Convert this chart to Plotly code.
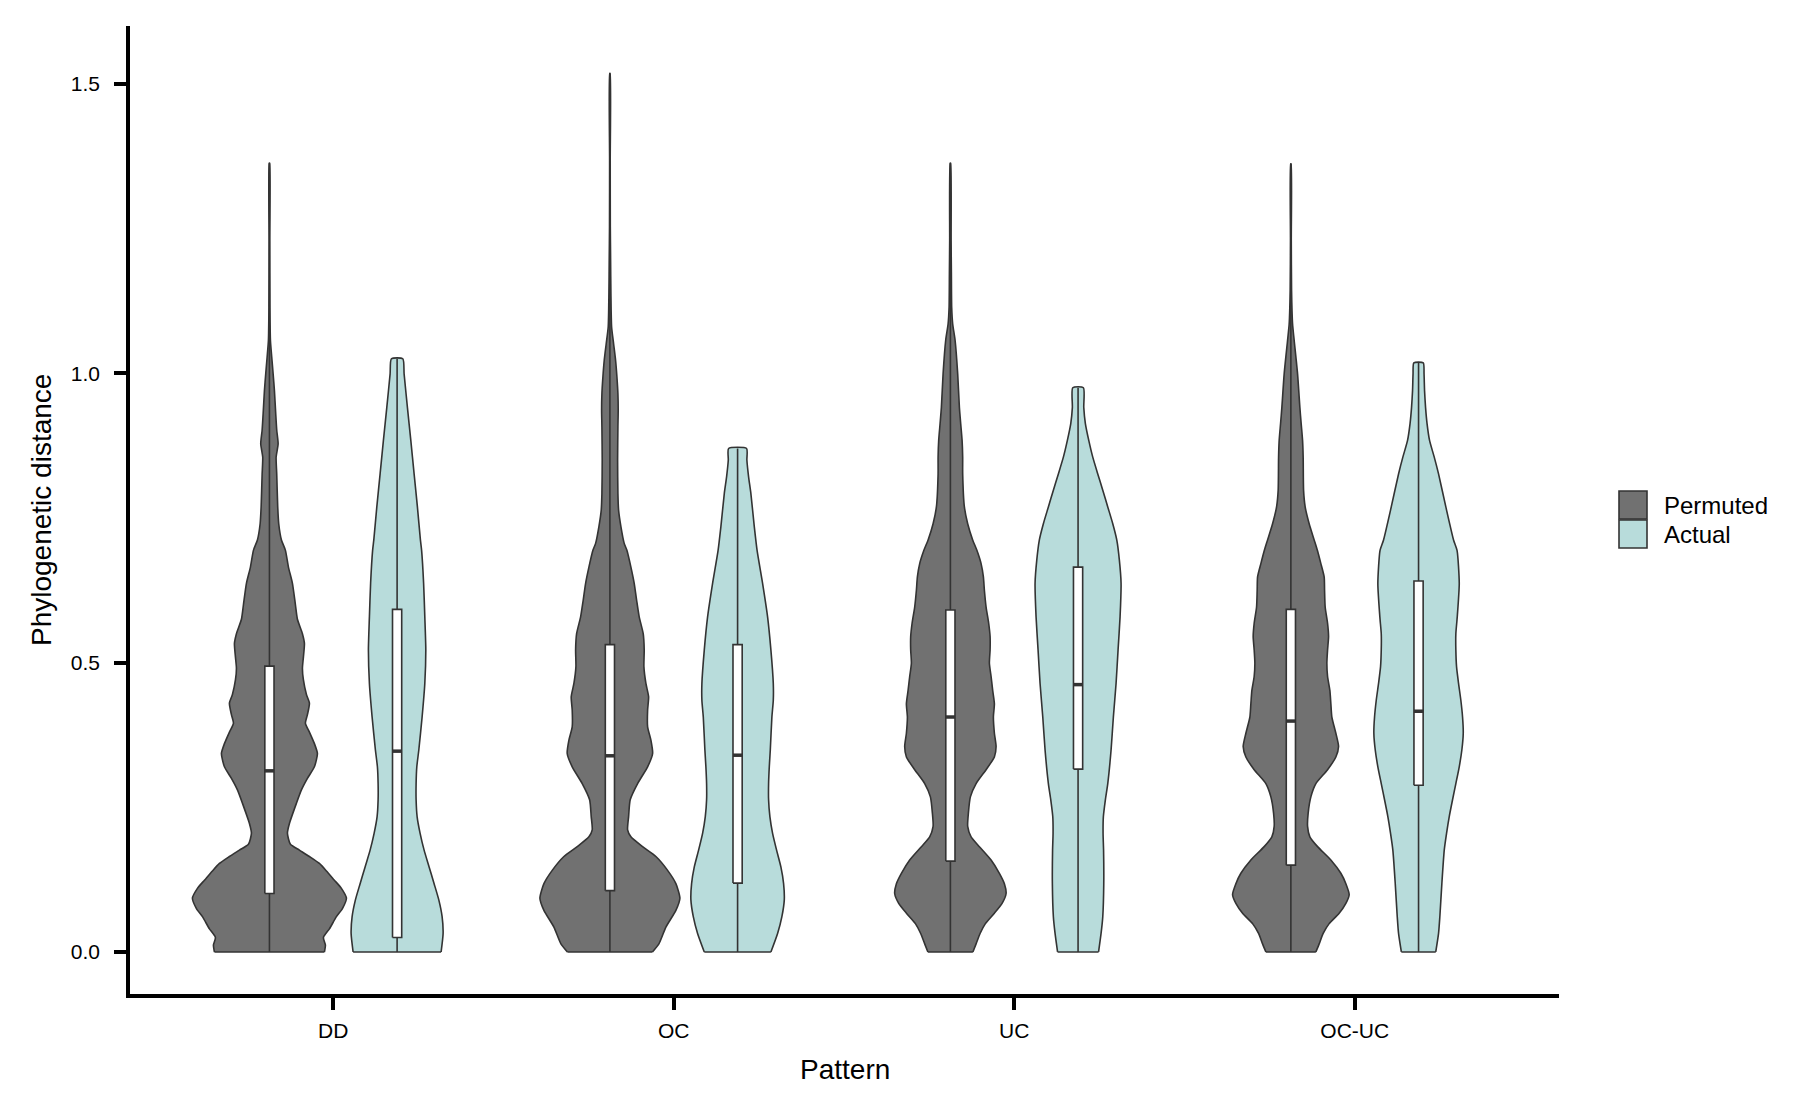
import plotly.graph_objects as go

# ---------------- data ----------------
CATEGORIES = ["DD", "OC", "UC", "OC-UC"]
SERIES = ["Permuted", "Actual"]

# Violin outlines: y levels and relative density (half-width)
DD_PERM_Y = [0, 0.012, 0.025, 0.040, 0.061, 0.075, 0.093, 0.110, 0.124, 0.140, 0.153, 0.165, 0.176, 0.186,
             0.205, 0.222, 0.257, 0.280, 0.300, 0.320, 0.343, 0.360, 0.380, 0.395, 0.410, 0.430, 0.445,
             0.470, 0.490, 0.510, 0.533, 0.550, 0.575, 0.600, 0.637, 0.665, 0.694, 0.712, 0.740, 0.769,
             0.826, 0.855, 0.878, 0.902, 0.930, 0.970, 0.999, 1.028, 1.057, 1.114, 1.230, 1.363]
DD_PERM_D = [55, 56, 54, 60, 67, 73, 77, 72, 65, 57, 50, 40, 30, 21,
             18, 20, 27, 32, 38, 45, 48, 45, 40, 36, 38, 40, 37,
             34, 33, 34, 35, 33, 28, 26, 23, 19, 16, 12, 9.3, 8.3,
             7.3, 6.7, 8.7, 7.3, 6.3, 5, 3.7, 2.3, 1, 0.5, 0.3, 0.2]

DD_ACT_Y = [0, 0.032, 0.061, 0.090, 0.118, 0.147, 0.176, 0.205, 0.234, 0.263, 0.291, 0.320, 0.349,
            0.406, 0.464, 0.522, 0.579, 0.637, 0.694, 0.712, 0.769, 0.826, 0.884, 0.941, 0.999, 1.025]
DD_ACT_D = [44, 46, 45, 41.7, 37, 32, 27, 23, 20, 19, 19, 19.7, 21.7,
            25, 27.7, 28.7, 27.7, 26.5, 24.5, 23.3, 20.3, 17, 13.7, 10.3, 7, 5.7]

OC_PERM_Y = [0, 0.014, 0.043, 0.072, 0.093, 0.118, 0.141, 0.165, 0.182, 0.199, 0.211, 0.234, 0.263,
             0.291, 0.320, 0.343, 0.366, 0.389, 0.418, 0.441, 0.464, 0.493, 0.522, 0.550, 0.579, 0.608,
             0.637, 0.665, 0.694, 0.706, 0.735, 0.763, 0.792, 0.850, 0.907, 0.936, 0.965, 0.994, 1.022,
             1.051, 1.080, 1.138, 1.195, 1.253, 1.368, 1.518]
OC_PERM_D = [42.5, 49, 56, 66, 70, 66, 57.7, 46, 32.7, 21, 17.7, 18.7, 20.3,
             27.7, 37.7, 42.7, 41, 37.7, 37.7, 38.7, 36, 34, 34.3, 33.3, 29.3, 26.7,
             24.3, 21, 17, 14.3, 11, 8.7, 8, 7.7, 8, 8.3, 8, 7, 5.7,
             3.7, 1.7, 1, 0.7, 0.4, 0.3, 0.2]

OC_ACT_Y = [0, 0.032, 0.061, 0.090, 0.118, 0.147, 0.176, 0.205, 0.234, 0.263, 0.291, 0.320, 0.349,
            0.406, 0.435, 0.464, 0.522, 0.579, 0.637, 0.694, 0.735, 0.792, 0.821, 0.850, 0.870]
OC_ACT_D = [33.3, 40, 44.3, 46.7, 46, 43.3, 39, 35, 32.3, 31, 31, 31.7, 32.7,
            34.3, 35.7, 35.7, 33.3, 30, 25, 19.5, 16.7, 13.3, 11, 9.3, 9]

UC_PERM_Y = [0, 0.014, 0.032, 0.049, 0.067, 0.084, 0.101, 0.118, 0.136, 0.159, 0.182, 0.199, 0.217,
             0.240, 0.268, 0.291, 0.315, 0.337, 0.355, 0.378, 0.406, 0.429, 0.452, 0.476, 0.499, 0.522,
             0.545, 0.568, 0.596, 0.625, 0.648, 0.671, 0.694, 0.712, 0.740, 0.769, 0.826, 0.855, 0.884,
             0.913, 0.941, 0.999, 1.057, 1.085, 1.114, 1.172, 1.230, 1.363]
UC_PERM_D = [22.5, 25.7, 29.7, 35, 44, 51.7, 55.7, 54, 49, 40.7, 29, 20.7, 17.3,
             18, 20, 25.7, 35.7, 44, 45.7, 44, 43, 44, 42.3, 40.7, 39, 39.7,
             39.7, 38.3, 35.7, 34, 33, 30.7, 26.5, 22.3, 17.3, 14, 12.3, 12.3, 11.7,
             10.3, 9, 7.3, 4.7, 2.3, 1.3, 1, 0.7, 0.2]

UC_ACT_Y = [0, 0.032, 0.061, 0.118, 0.176, 0.205, 0.234, 0.263, 0.291, 0.349, 0.406, 0.464, 0.522,
            0.579, 0.637, 0.677, 0.712, 0.740, 0.769, 0.798, 0.826, 0.855, 0.884, 0.913, 0.941, 0.975]
UC_ACT_D = [20.5, 23, 24.7, 25.7, 25.5, 25, 25.3, 27.3, 29.7, 33, 35.3, 38, 40,
            42, 43, 41.3, 38.7, 34.7, 29.7, 24.7, 19.7, 14.7, 10.7, 7.3, 5.7, 5.3]

OCUC_PERM_Y = [0, 0.014, 0.032, 0.049, 0.067, 0.084, 0.099, 0.118, 0.136, 0.159, 0.182, 0.199, 0.217,
               0.240, 0.268, 0.291, 0.315, 0.337, 0.355, 0.378, 0.406, 0.429, 0.452, 0.476, 0.499, 0.522,
               0.545, 0.568, 0.596, 0.625, 0.648, 0.671, 0.694, 0.712, 0.740, 0.769, 0.798, 0.855, 0.884,
               0.913, 0.941, 0.999, 1.057, 1.085, 1.143, 1.230, 1.362]
OCUC_PERM_D = [25, 28.3, 32.3, 38.3, 48.3, 55, 58.3, 55, 50, 40, 26.7, 19, 16.7,
               17.3, 20, 25, 36.7, 45, 47.7, 45, 41, 40, 39, 36.7, 36, 36.7,
               37.7, 36.7, 34.3, 33.7, 33.3, 30, 26.5, 23.3, 18.3, 14.3, 12.7, 12.3, 11.7,
               10.3, 9, 6.7, 3.3, 1.7, 0.7, 0.4, 0.2]

OCUC_ACT_Y = [0, 0.032, 0.061, 0.118, 0.176, 0.205, 0.234, 0.263, 0.291, 0.320, 0.349, 0.378, 0.406,
              0.435, 0.464, 0.493, 0.522, 0.550, 0.579, 0.637, 0.694, 0.712, 0.769, 0.826, 0.855, 0.884,
              0.913, 0.941, 0.970, 0.999, 1.018]
OCUC_ACT_D = [17.2, 20, 21.3, 23.3, 25.7, 28, 30.7, 34, 37.3, 40.7, 43.3, 44.7, 44,
              42.3, 40, 38, 37.3, 37.3, 38.7, 40.7, 38.5, 35, 27.3, 20, 15.7, 11,
              8.5, 7, 6, 5.5, 4.7]

# Box plot statistics (per category, in CATEGORIES order)
PERM_Q1 = [0.101, 0.106, 0.157, 0.150]
PERM_MED = [0.313, 0.339, 0.406, 0.399]
PERM_Q3 = [0.494, 0.531, 0.591, 0.592]
PERM_MIN = [0.0, 0.0, 0.0, 0.0]
PERM_MAX = [1.363, 1.518, 1.363, 1.362]

ACT_Q1 = [0.025, 0.119, 0.316, 0.288]
ACT_MED = [0.347, 0.340, 0.462, 0.416]
ACT_Q3 = [0.592, 0.531, 0.665, 0.641]
ACT_MIN = [0.0, 0.0, 0.0, 0.0]
ACT_MAX = [1.025, 0.870, 0.975, 1.018]

Y_TICKS = [0.0, 0.5, 1.0, 1.5]

# ---------------- styling ----------------
FILL = {"Permuted": "#717171", "Actual": "#B8DCDB"}
OUTLINE = "#333333"
DODGE = 0.1875
DENSITY_SCALE = 1 / 340.5     # density units -> x-axis units (shared across violins, area scaling)
BOX_HALF = 0.0135
FONT = "Liberation Sans, Arial, Helvetica, sans-serif"

PROFILES = {
    ("DD", "Permuted"): (DD_PERM_Y, DD_PERM_D),
    ("DD", "Actual"): (DD_ACT_Y, DD_ACT_D),
    ("OC", "Permuted"): (OC_PERM_Y, OC_PERM_D),
    ("OC", "Actual"): (OC_ACT_Y, OC_ACT_D),
    ("UC", "Permuted"): (UC_PERM_Y, UC_PERM_D),
    ("UC", "Actual"): (UC_ACT_Y, UC_ACT_D),
    ("OC-UC", "Permuted"): (OCUC_PERM_Y, OCUC_PERM_D),
    ("OC-UC", "Actual"): (OCUC_ACT_Y, OCUC_ACT_D),
}
BOXES = {
    "Permuted": (PERM_Q1, PERM_MED, PERM_Q3, PERM_MIN, PERM_MAX),
    "Actual": (ACT_Q1, ACT_MED, ACT_Q3, ACT_MIN, ACT_MAX),
}

fig = go.Figure()

for i, cat in enumerate(CATEGORIES):
    for s in SERIES:
        c = (i + 1) + (-DODGE if s == "Permuted" else DODGE)
        ys, ds = PROFILES[(cat, s)]
        xs = [c + d * DENSITY_SCALE for d in ds] + [c - d * DENSITY_SCALE for d in reversed(ds)]
        yy = list(ys) + list(reversed(ys))
        # smooth filled outline (fill closes straight along the bottom)
        fig.add_trace(go.Scatter(
            x=xs, y=yy, mode="lines", fill="toself", fillcolor=FILL[s],
            line=dict(color=OUTLINE, width=1.6, shape="spline", smoothing=0.6),
            hoverinfo="skip", showlegend=False))
        # straight bottom edge of the trimmed violin
        fig.add_trace(go.Scatter(
            x=[c - ds[0] * DENSITY_SCALE, c + ds[0] * DENSITY_SCALE], y=[ys[0], ys[0]],
            mode="lines", line=dict(color=OUTLINE, width=1.6),
            hoverinfo="skip", showlegend=False))
        q1, med, q3, mn, mx = (arr[i] for arr in BOXES[s])
        # whisker / centre line
        fig.add_trace(go.Scatter(
            x=[c, c], y=[mn, mx], mode="lines",
            line=dict(color=OUTLINE, width=1.6), hoverinfo="skip", showlegend=False))
        # box
        fig.add_trace(go.Scatter(
            x=[c - BOX_HALF, c + BOX_HALF, c + BOX_HALF, c - BOX_HALF, c - BOX_HALF],
            y=[q1, q1, q3, q3, q1], mode="lines", fill="toself", fillcolor="white",
            line=dict(color=OUTLINE, width=1.6), hoverinfo="skip", showlegend=False))
        # median
        fig.add_trace(go.Scatter(
            x=[c - BOX_HALF, c + BOX_HALF], y=[med, med], mode="lines",
            line=dict(color=OUTLINE, width=3.5), hoverinfo="skip", showlegend=False))

L, R, T, B = 130, 241, 26, 119
W, H = 1800, 1113
pw, ph = W - L - R, H - T - B


def px2paper_x(px):
    return (px - L) / pw


def px2paper_y(py):
    return (H - B - py) / ph


# manual legend (keys + labels)
legend_shapes = []
legend_annots = []
key_x0, key_x1 = 1619, 1647
for k, (s, y0, y1) in enumerate([("Permuted", 491, 519), ("Actual", 520, 548)]):
    legend_shapes.append(dict(
        type="rect", xref="paper", yref="paper",
        x0=px2paper_x(key_x0), x1=px2paper_x(key_x1),
        y0=px2paper_y(y1), y1=px2paper_y(y0),
        fillcolor=FILL[s], line=dict(color=OUTLINE, width=1.6)))
    legend_annots.append(dict(
        text=s, xref="paper", yref="paper", x=px2paper_x(1662), y=px2paper_y((y0 + y1) / 2),
        xanchor="left", yanchor="middle", showarrow=False,
        font=dict(family=FONT, size=24, color="black")))

axis_titles = [
    dict(text="Phylogenetic distance", xref="paper", yref="paper",
         x=px2paper_x(41), y=0.5, textangle=-90, xanchor="center", yanchor="middle",
         showarrow=False, font=dict(family=FONT, size=28, color="black")),
    dict(text="Pattern", xref="paper", yref="paper",
         x=0.5, y=px2paper_y(1069), xanchor="center", yanchor="middle",
         showarrow=False, font=dict(family=FONT, size=28, color="black")),
]

fig.update_layout(
    width=W, height=H,
    margin=dict(l=L, r=R, t=T, b=B, autoexpand=False),
    paper_bgcolor="white", plot_bgcolor="white",
    font=dict(family=FONT, color="black"),
    showlegend=False,
    shapes=legend_shapes,
    annotations=axis_titles + legend_annots,
    xaxis=dict(
        range=[0.403, 4.6], tickvals=[1, 2, 3, 4], ticktext=CATEGORIES,
        showgrid=False, zeroline=False, showline=True, linecolor="black", linewidth=3.5,
        ticks="outside", ticklen=12, tickwidth=3.5, tickcolor="black",
        tickfont=dict(family=FONT, size=21, color="black"), ticklabelstandoff=3),
    yaxis=dict(
        range=[-0.0726, 1.6], tickvals=Y_TICKS, tickformat=".1f",
        showgrid=False, zeroline=False, showline=True, linecolor="black", linewidth=3.5,
        ticks="outside", ticklen=12, tickwidth=3.5, tickcolor="black",
        tickfont=dict(family=FONT, size=21, color="black"), ticklabelstandoff=10),
)

fig.write_html("out.html")
